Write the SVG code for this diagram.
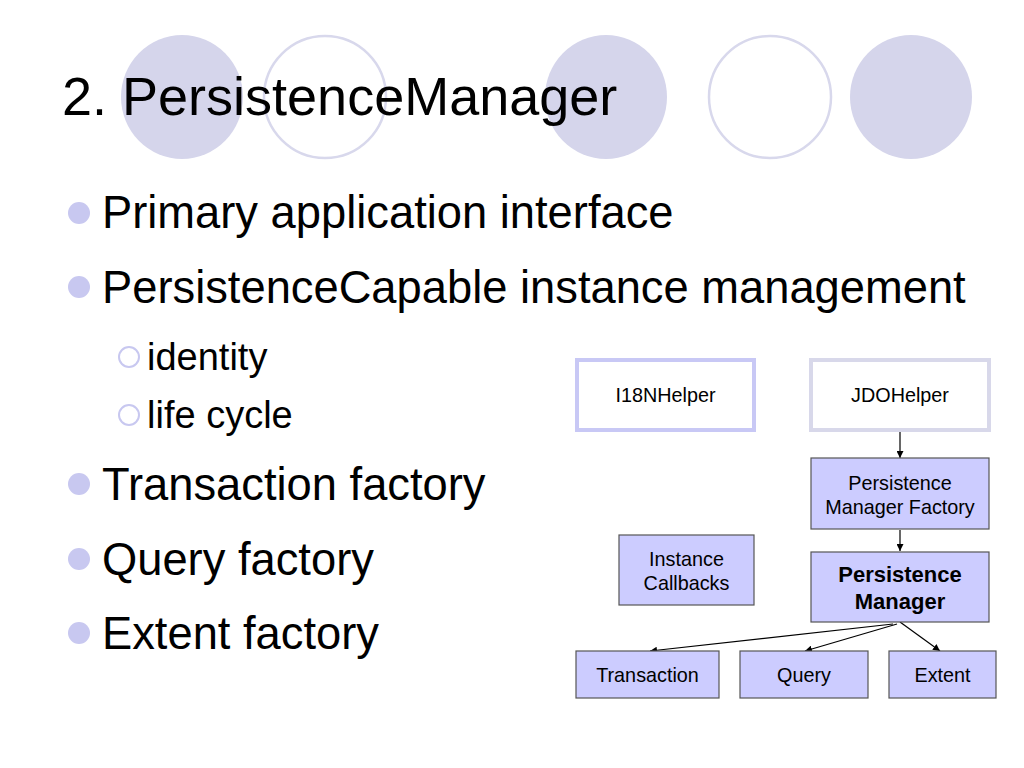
<svg xmlns="http://www.w3.org/2000/svg" width="1024" height="768" viewBox="0 0 1024 768">
<style>
.deco{fill:#d5d5eb}
.ring{fill:none;stroke:#d8d8ec;stroke-width:2.5}
.title{font-family:"Liberation Sans",Arial,sans-serif;font-size:54px;fill:#000}
.b1{font-family:"Liberation Sans",Arial,sans-serif;font-size:45.3px;fill:#000}
.b2{font-family:"Liberation Sans",Arial,sans-serif;font-size:38px;fill:#000}
.dot{fill:#c8c8f0}
.sub{fill:none;stroke:#c8c8f0;stroke-width:2}
.box{fill:#ccccff;stroke:#555;stroke-width:1.2}
.lbl{font-family:"Liberation Sans",Arial,sans-serif;font-size:19.8px;fill:#000;text-anchor:middle}
.bold{font-weight:bold;font-size:22px}
.conn{stroke:#000;stroke-width:1.2;fill:none;marker-end:url(#ah)}
</style>
<defs>
<marker id="ah" viewBox="0 0 10 10" refX="10" refY="5" markerWidth="7" markerHeight="7" markerUnits="userSpaceOnUse" orient="auto">
<path d="M0,0 L10,5 L0,10 z" fill="#000"/>
</marker>
</defs>
<rect width="1024" height="768" fill="#fff"/>
<g id="decor">
<ellipse class="deco" cx="182" cy="97" rx="61" ry="62"/>
<ellipse class="ring" cx="325" cy="97" rx="61" ry="61"/>
<ellipse class="deco" cx="606" cy="97" rx="61" ry="62"/>
<ellipse class="ring" cx="770" cy="97" rx="61" ry="61"/>
<ellipse class="deco" cx="911" cy="97" rx="61" ry="62"/>
</g>
<text class="title" x="62" y="115">2. PersistenceManager</text>
<g id="bullets">
<circle class="dot" cx="79" cy="213" r="11"/>
<text class="b1" x="102" y="228">Primary application interface</text>
<circle class="dot" cx="79" cy="287" r="11"/>
<text class="b1" x="102" y="303">PersistenceCapable instance management</text>
<circle class="sub" cx="129" cy="357" r="10"/>
<text class="b2" x="147" y="370">identity</text>
<circle class="sub" cx="129" cy="415" r="10"/>
<text class="b2" x="147" y="428">life cycle</text>
<circle class="dot" cx="79" cy="484" r="11"/>
<text class="b1" x="102" y="500">Transaction factory</text>
<circle class="dot" cx="79" cy="559" r="11"/>
<text class="b1" x="102" y="575">Query factory</text>
<circle class="dot" cx="79" cy="633" r="11"/>
<text class="b1" x="102" y="649">Extent factory</text>
</g>
<g id="connectors">
<line class="conn" x1="900" y1="432" x2="900" y2="458"/>
<line class="conn" x1="900" y1="530" x2="900" y2="551"/>
<line class="conn" x1="893" y1="624" x2="650" y2="651"/>
<line class="conn" x1="897" y1="624" x2="805" y2="651"/>
<line class="conn" x1="900" y1="622" x2="940" y2="651"/>
</g>
<g id="i18nhelper">
<rect x="577" y="360" width="177" height="70" fill="#fff" stroke="#c8c8f5" stroke-width="4"/>
<text class="lbl" x="665.5" y="402">I18NHelper</text>
</g>
<g id="jdohelper">
<rect x="811" y="360" width="178" height="70" fill="#fff" stroke="#d8d8ea" stroke-width="4"/>
<text class="lbl" x="900" y="402">JDOHelper</text>
</g>
<g id="pmf">
<rect class="box" x="811" y="458" width="178" height="71"/>
<text class="lbl" x="900" y="490">Persistence</text>
<text class="lbl" x="900" y="514">Manager Factory</text>
</g>
<g id="instancecallbacks">
<rect class="box" x="619" y="535" width="135" height="70"/>
<text class="lbl" x="686.5" y="566">Instance</text>
<text class="lbl" x="686.5" y="590">Callbacks</text>
</g>
<g id="pm">
<rect class="box" x="811" y="552" width="178" height="70"/>
<text class="lbl bold" x="900" y="582">Persistence</text>
<text class="lbl bold" x="900" y="609">Manager</text>
</g>
<g id="transaction">
<rect class="box" x="576" y="651" width="143" height="47"/>
<text class="lbl" x="647.5" y="682">Transaction</text>
</g>
<g id="query">
<rect class="box" x="740" y="651" width="128" height="47"/>
<text class="lbl" x="804" y="682">Query</text>
</g>
<g id="extent">
<rect class="box" x="889" y="651" width="107" height="47"/>
<text class="lbl" x="942.5" y="682">Extent</text>
</g>
</svg>
